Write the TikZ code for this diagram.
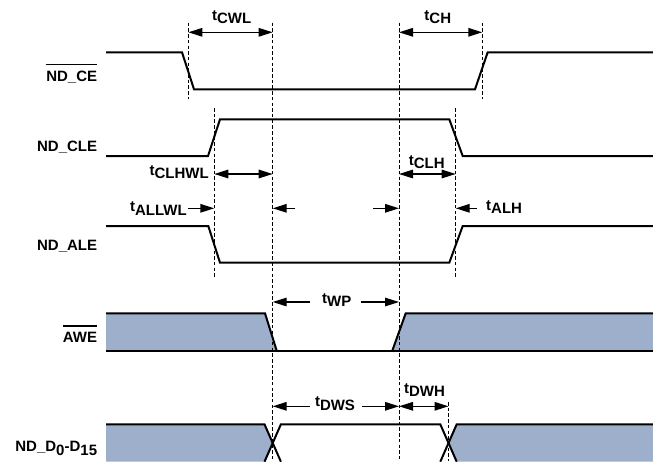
\documentclass[tikz,border=0pt]{standalone}
\usepackage{fontspec}
\setmainfont{Liberation Sans}
\usetikzlibrary{arrows.meta}
\definecolor{awefill}{HTML}{9DAFCA}
\newcommand{\tsub}[1]{t\raisebox{-3.5pt}{#1}}
\newcommand{\obar}[1]{\leavevmode\vbox{\hrule height 1.5pt\kern 5.5pt\hbox{#1}}}
\tikzset{
  sig/.style={line width=2pt},
  dsh/.style={line width=0.8pt, dash pattern=on 3.5pt off 2.2pt},
  dimb/.style={line width=1.4pt, {Triangle[length=14pt,width=8.5pt]}-{Triangle[length=14pt,width=8.5pt]}},
  dimr/.style={line width=1.4pt, -{Triangle[length=14pt,width=8.5pt]}},
  lbl/.style={font=\fontsize{15}{17}\selectfont\bfseries, inner sep=0pt},
}
\begin{document}
\begin{tikzpicture}[x=1pt,y=-1pt]
\useasboundingbox (0,0) rectangle (653,461);
\clip (0,0) rectangle (653,461);

% ---- signal names
\node[lbl, anchor=base east] (nce)  at (97.3,81)    {\obar{ND\_CE}};
\node[lbl, anchor=base east] (ncle) at (97.3,151)   {ND\_CLE};
\node[lbl, anchor=base east] (nale) at (97.3,250)   {ND\_ALE};
\node[lbl, anchor=base east] (nawe) at (97.3,342.7) {\obar{AWE}};
\node[lbl, anchor=base east] (nd)   at (97.3,451.7) {ND\_D\raisebox{-3.3pt}{0}-D\raisebox{-3.3pt}{15}};

% ---- shaded areas
\fill[awefill] (106,313.3) -- (265,313.3) -- (276.7,350.7) -- (106,350.7) -- cycle;
\fill[awefill] (392.3,350.7) -- (405.7,313.3) -- (653,313.3) -- (653,350.7) -- cycle;
\fill[awefill] (106,424.3) -- (264.5,424.3) -- (272.7,443) -- (264.5,461.7) -- (106,461.7) -- cycle;
\fill[awefill] (456.7,424.3) -- (653,424.3) -- (653,461.7) -- (456.7,461.7) -- (448.5,443) -- cycle;

% ---- waveforms
\draw[sig] (106,52.3) -- (182,52.3) -- (194,89.3) -- (475,89.3) -- (487.7,52.3) -- (653,52.3);
\draw[sig] (106,156) -- (208,156) -- (220,119.3) -- (449.3,119.3) -- (462.7,156) -- (653,156);
\draw[sig] (106,226) -- (208.3,226) -- (220,262.7) -- (449.3,262.7) -- (462.7,226) -- (653,226);
\draw[sig] (106,313.3) -- (265,313.3) -- (276.7,350.7);
\draw[sig] (106,350.7) -- (653,350.7);
\draw[sig] (392.3,350.7) -- (405.7,313.3) -- (653,313.3);
\draw[sig] (106,424.3) -- (264.5,424.3) -- (280.9,461.7);
\draw[sig] (264.5,461.7) -- (280.9,424.3) -- (440.3,424.3) -- (456.7,461.7);
\draw[sig] (440.3,461.7) -- (456.7,424.3) -- (653,424.3);

% ---- dashed reference lines
\coordinate (d1t) at (188.3,22.7); \coordinate (d1b) at (188.3,99);
\coordinate (d2t) at (272.7,22.7); \coordinate (d2b) at (272.7,461);
\coordinate (d3t) at (399,22.7);   \coordinate (d3b) at (399,461);
\coordinate (d4t) at (482.3,22.7); \coordinate (d4b) at (482.3,99);
\coordinate (d5t) at (214.3,108);  \coordinate (d5b) at (214.3,277);
\coordinate (d6t) at (455.7,108);  \coordinate (d6b) at (455.7,278);
\coordinate (d7t) at (448.5,402);  \coordinate (d7b) at (448.5,461);
\foreach \d in {1,...,7} \draw[dsh] (d\d t) -- (d\d b);

% ---- timing labels
\node[lbl, anchor=base]      (cwl)   at (231.7,20)    {\tsub{CWL}};
\node[lbl, anchor=base]      (ch)    at (437.8,20)    {\tsub{CH}};
\node[lbl, anchor=base east] (clhwl) at (209,175)     {\tsub{CLHWL}};
\node[lbl, anchor=base]      (clh)   at (426.7,165)   {\tsub{CLH}};
\node[lbl, anchor=base east] (allwl) at (187,211.7)   {\tsub{ALLWL}};
\node[lbl, anchor=base west] (alh)   at (486,210)     {\tsub{ALH}};
\node[lbl, anchor=base]      (wp)    at (336.8,303.3) {\tsub{WP}};
\node[lbl, anchor=base]      (dws)   at (335,406.7)   {\tsub{DWS}};
\node[lbl, anchor=base]      (dwh)   at (424.5,393)   {\tsub{DWH}};

% ---- dimension arrows
\coordinate (cwlA) at (188.3,32.3); \coordinate (cwlB) at (272.7,32.3);
\coordinate (chA) at (399,32.3);    \coordinate (chB) at (482.3,32.3);
\coordinate (clhwlA) at (214.3,174); \coordinate (clhwlB) at (272.7,174);
\coordinate (clhA) at (399,174);    \coordinate (clhB) at (455.7,174);
\coordinate (allA) at (188,208.3);  \coordinate (allB) at (214.3,208.3);
\coordinate (wiA) at (295,208.3);   \coordinate (wiB) at (272.7,208.3);
\coordinate (wjA) at (373,208.3);   \coordinate (wjB) at (399,208.3);
\coordinate (alhA) at (476.7,208.3); \coordinate (alhB) at (455.7,208.3);
\coordinate (wpA) at (310,302);     \coordinate (wpB) at (272.7,302);
\coordinate (wpC) at (361,302);     \coordinate (wpD) at (399,302);
\coordinate (dwsA) at (310,406.3);  \coordinate (dwsB) at (272.7,406.3);
\coordinate (dwsC) at (361.7,406.3); \coordinate (dwsD) at (399,406.3);
\coordinate (dwhA) at (399,406.3);  \coordinate (dwhB) at (448.5,406.3);

\draw[dimb] (cwlA) -- (cwlB);
\draw[dimb] (chA) -- (chB);
\draw[dimb] (clhwlA) -- (clhwlB);
\draw[dimb] (clhA) -- (clhB);
\draw[dimr] (allA) -- (allB);
\draw[dimr] (wiA) -- (wiB);
\draw[dimr] (wjA) -- (wjB);
\draw[dimr] (alhA) -- (alhB);
\draw[dimr] (wpA) -- (wpB);
\draw[dimr] (wpC) -- (wpD);
\draw[dimr] (dwsA) -- (dwsB);
\draw[dimr] (dwsC) -- (dwsD);
\draw[dimb] (dwhA) -- (dwhB);
\end{tikzpicture}
\end{document}
